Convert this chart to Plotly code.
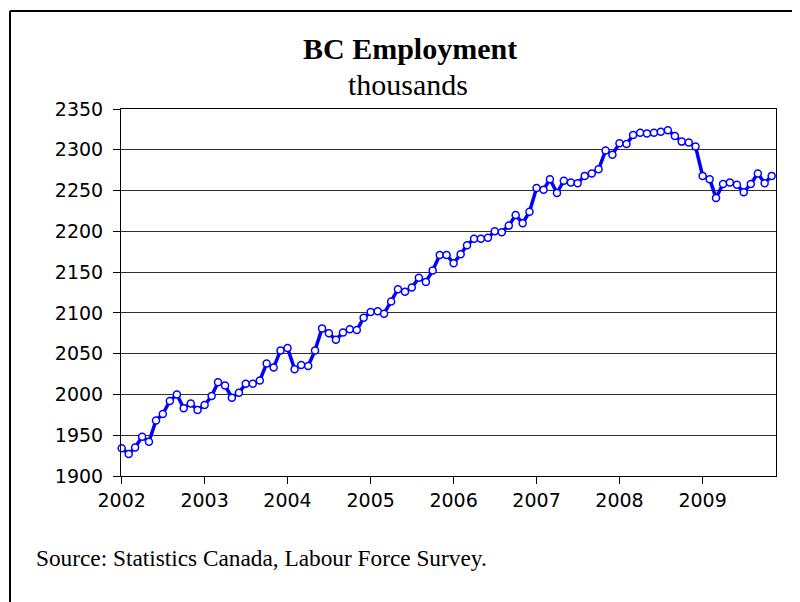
import pandas as pd
import plotly.graph_objects as go

# Monthly dates, Jan 2002 - Nov 2009
months = pd.date_range("2002-01-01", periods=95, freq="MS")

employment = [
    1934, 1927, 1935, 1948, 1942, 1968, 1976, 1992, 2000, 1983, 1989, 1981,
    1987, 1998, 2015, 2011, 1996, 2002, 2013, 2013, 2017, 2038, 2033, 2054,
    2057, 2031, 2036, 2035, 2054, 2081, 2075, 2067, 2076, 2080, 2079, 2094,
    2101, 2102, 2099, 2114, 2129, 2126, 2131, 2143, 2138, 2152, 2171, 2171,
    2161, 2172, 2183, 2191, 2191, 2192, 2200, 2199, 2207, 2220, 2210, 2224,
    2253, 2251, 2264, 2247, 2262, 2260, 2259, 2268, 2271, 2276, 2299, 2294,
    2308, 2307, 2318, 2321, 2320, 2321, 2322, 2324, 2317, 2310, 2309, 2304,
    2268, 2264, 2241, 2258, 2260, 2257, 2248, 2258, 2271, 2259, 2268,
]

title_text = "<b>BC Employment</b>"
subtitle_text = "thousands"
source_text = "Source: Statistics Canada, Labour Force Survey."

W, H = 800, 602
OFF = 8  # page body margin offset
ML, MT = 121 - OFF, 109 - OFF
PW, PH = 655, 367
MR, MB = W - ML - PW, H - MT - PH


def px(x):
    return (x - OFF - ML) / PW


def py(y):
    return (MT + PH - (y - OFF)) / PH


fig = go.Figure()
fig.add_trace(go.Scatter(
    x=months, y=employment, mode="lines+markers",
    line=dict(color="#0000FF", width=3.5),
    marker=dict(symbol="circle", size=7, color="white",
                line=dict(color="#0000FF", width=1.5)),
    cliponaxis=False, showlegend=False,
))

serif = "Liberation Serif"
sans = "DejaVu Sans"

fig.update_layout(
    width=W, height=H,
    margin=dict(l=ML, r=MR, t=MT, b=MB),
    paper_bgcolor="white", plot_bgcolor="white",
    xaxis=dict(
        type="date", range=["2001-12-29", "2009-11-20"],
        tick0="2002-01-01", dtick="M12", tickformat="%Y",
        showgrid=False, showline=True, linecolor="black", linewidth=1,
        mirror=True, ticks="outside", ticklen=7, tickcolor="black",
        tickfont=dict(family=sans, size=19, color="black"),
    ),
    yaxis=dict(
        range=[1900, 2350], dtick=50, tick0=1900,
        showgrid=True, gridcolor="#303030", gridwidth=1,
        showline=True, linecolor="black", linewidth=1, mirror=True,
        ticks="outside", ticklen=7, tickcolor="black",
        ticklabelstandoff=6,
        tickfont=dict(family=sans, size=19, color="black"),
        zeroline=False,
    ),
    annotations=[
        dict(text=title_text, x=px(410), y=py(48), xref="paper", yref="paper",
             showarrow=False, xanchor="center", yanchor="middle",
             font=dict(family=serif, size=30, color="black")),
        dict(text=subtitle_text, x=px(408), y=py(84), xref="paper", yref="paper",
             showarrow=False, xanchor="center", yanchor="middle",
             font=dict(family=serif, size=30, color="black")),
        dict(text=source_text, x=px(34), y=py(558), xref="paper", yref="paper",
             showarrow=False, xanchor="left", yanchor="middle",
             font=dict(family=serif, size=23.3, color="black")),
    ],
    shapes=[
        dict(type="line", xref="paper", yref="paper",
             x0=px(10), x1=px(10), y0=py(700), y1=py(11),
             line=dict(color="black", width=2)),
        dict(type="line", xref="paper", yref="paper",
             x0=px(10), x1=px(900), y0=py(11), y1=py(11),
             line=dict(color="black", width=2)),
    ],
)

fig.write_html("out.html")
